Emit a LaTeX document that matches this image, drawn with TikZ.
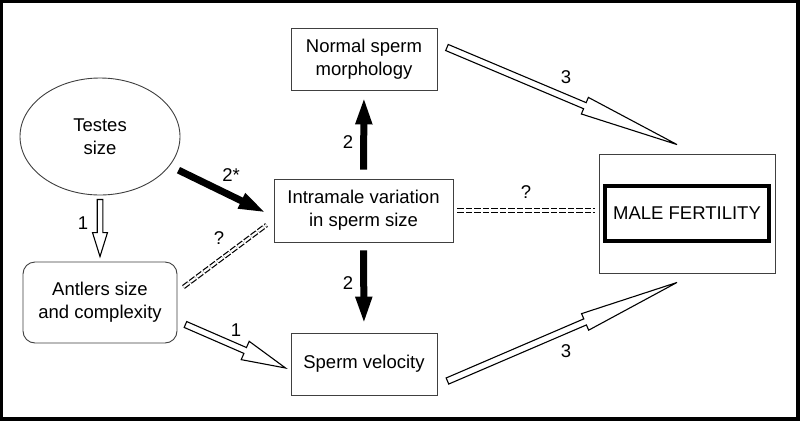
\documentclass[tikz,border=0pt]{standalone}
\usepackage{fontspec}
\setmainfont{Liberation Sans}
\usetikzlibrary{calc,arrows.meta,shapes.geometric}
\newcommand\figfont{\fontsize{18.5}{23}\selectfont}
\newcommand\hollowarrow[5]{%
  \path #1 coordinate (ha-a) #2 coordinate (ha-b);
  \coordinate (ha-h) at ($(ha-b)!#3!(ha-a)$);
  \draw[hollowline] ($(ha-a)!#5!90:(ha-b)$) -- ($(ha-h)!#5!90:(ha-b)$)
    -- ($(ha-h)!#4!90:(ha-b)$) -- (ha-b) -- ($(ha-h)!#4!-90:(ha-b)$)
    -- ($(ha-h)!#5!-90:(ha-b)$) -- ($(ha-a)!#5!-90:(ha-b)$) -- cycle;
}
\begin{document}
\begin{tikzpicture}[x=1pt,y=-1pt,
  box/.style={draw=black!75, line width=0.9pt, align=center, font=\figfont, inner sep=0pt},
  lbl/.style={font=\figfont, inner sep=0pt},
  solidarrow/.style={line width=7pt, -{Triangle[length=28pt,width=15pt]}},
  dbldash/.style={line width=1.2pt, double=white, double distance=2.2pt, dash pattern=on 6.5pt off 2pt},
  hollowline/.style={draw=black, line width=1.1pt, fill=white, line join=miter}]
% frame
\fill[black] (0,0) rectangle (800,421);
\fill[white] (3,3) rectangle (796,417);
\useasboundingbox (0,0) rectangle (800,421);
% nodes
\node[box, minimum width=146pt, minimum height=62pt] (normal) at (364,59) {Normal sperm\\morphology};
\node[box, ellipse, minimum width=160pt, minimum height=117pt] (testes) at (100,136.5) {Testes\\size};
\node[box, minimum width=179pt, minimum height=63pt] (intra) at (363.5,210.5) {Intramale variation\\in sperm size};
\node[box, rounded corners=12pt, minimum width=154pt, minimum height=81pt] (antlers) at (100,302.5) {Antlers size\\and complexity};
\node[box, minimum width=146pt, minimum height=62pt] (velo) at (364,364) {Sperm velocity};
\node[box, minimum width=176pt, minimum height=119pt] (fert) at (687,213.5) {};
\node[box, draw=black, line width=3.5pt, minimum width=164pt, minimum height=55pt] (male) at (687,213.5) {MALE FERTILITY};
% solid arrows
\draw[solidarrow] ([shift={(10.6,2)}]testes.-25) -- ([shift={(-7,2.5)}]intra.west);
\draw[solidarrow, shorten <=9pt, shorten >=6pt] (intra.north) -- (normal.south);
\draw[solidarrow, shorten <=8pt, shorten >=8pt] (intra.south) -- (velo.north);
% hollow arrows
\hollowarrow{([shift={(0,4)}]testes.south)}{([shift={(0,-5)}]antlers.north)}{24pt}{7.5pt}{2.8pt}
\hollowarrow{([shift={(8,22)}]antlers.east)}{([shift={(-5,4)}]velo.west)}{44pt}{10pt}{3.2pt}
\hollowarrow{([shift={(9.5,-11.5)}]normal.east)}{([shift={(-10,-9)}]fert.north)}{100pt}{9pt}{3.3pt}
\hollowarrow{([shift={(10,17)}]velo.east)}{([shift={(-10,9)}]fert.south)}{100pt}{9pt}{3.3pt}
% dashed double lines
\draw[dbldash] ([shift={(6,-15.5)}]antlers.east) -- ([shift={(-7,14.5)}]intra.west);
\draw[dbldash, shorten <=4pt, shorten >=4pt] (intra.east) -- (intra.east -| fert.west);
% labels
\node[lbl] (l2s) at (231,175) {2*};
\node[lbl] (l2u) at (348,142) {2};
\node[lbl] (l2d) at (348,283) {2};
\node[lbl] (l1v) at (83,223) {1};
\node[lbl] (l1d) at (236,330) {1};
\node[lbl] (l3u) at (566,77) {3};
\node[lbl] (l3d) at (566,351) {3};
\node[lbl] (lqr) at (526,192) {?};
\node[lbl] (lql) at (219,238) {?};
\end{tikzpicture}
\end{document}
